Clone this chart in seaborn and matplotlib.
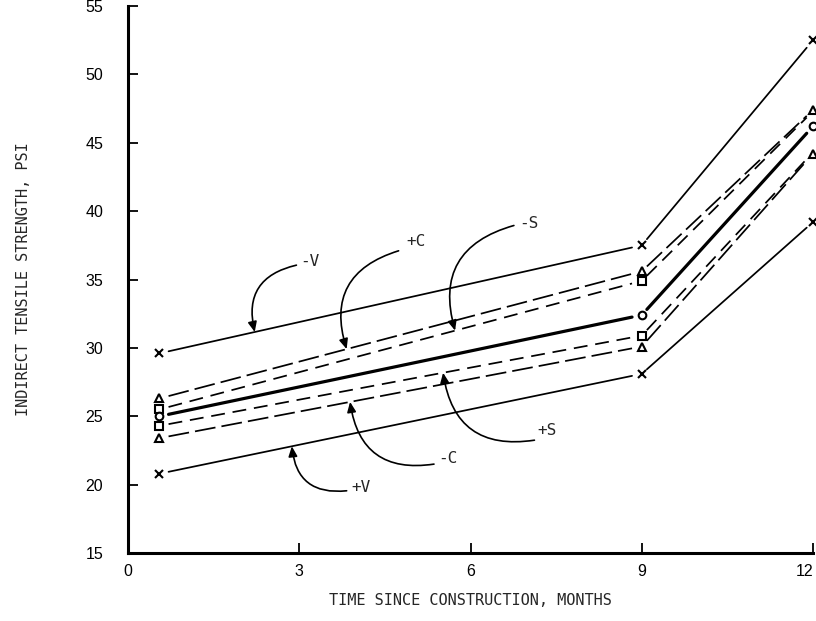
import numpy as np
import pandas as pd
import matplotlib
matplotlib.use("Agg")
import matplotlib.pyplot as plt
import seaborn as sns

# Indirect tensile strength (psi) measured at three ages (months)
months = [0.55, 9.0, 12.0]
minus_V = [29.6, 37.5, 52.5]
plus_C = [26.3, 35.6, 47.4]
minus_S = [25.5, 34.9, 47.3]
base = [25.0, 32.4, 46.2]
plus_S = [24.3, 30.9, 44.3]
minus_C = [23.4, 30.1, 44.2]
plus_V = [20.8, 28.1, 39.2]

x_ticks = [0, 3, 6, 9, 12]
y_ticks = [15, 20, 25, 30, 35, 40, 45, 50, 55]

series = {
    "-V": minus_V, "+C": plus_C, "-S": minus_S, "base": base,
    "+S": plus_S, "-C": minus_C, "+V": plus_V,
}

sns.set_style("ticks")
plt.rcParams["font.family"] = ["Liberation Sans", "DejaVu Sans"]

# line segments stop short of the plotted symbols
gap_before = [0.0, 0.17, 0.11]
gap_after = [0.16, 0.09, 0.0]
rows = []
for name, vals in series.items():
    for seg in range(len(months) - 1):
        xs = [months[seg] + gap_after[seg], months[seg + 1] - gap_before[seg + 1]]
        ys = np.interp(xs, months, vals)
        for xv, yv in zip(xs, ys):
            rows.append({"series": name, "segment": seg, "month": xv, "psi": yv})
df = pd.DataFrame(rows)

long_dash = (12, 3.5)
med_dash = (8, 4.5)
dashes = {"-V": "", "+C": long_dash, "-S": med_dash, "base": "",
          "+S": med_dash, "-C": long_dash, "+V": ""}
sizes = {"-V": 1.25, "+C": 1.25, "-S": 1.25, "base": 2.3,
         "+S": 1.25, "-C": 1.25, "+V": 1.25}

fig = plt.figure(figsize=(8.16, 6.21), dpi=100)
ax = fig.add_axes([0.1569, 0.1095, 0.8394, 0.8808])

sns.lineplot(data=df, x="month", y="psi", style="series", size="series",
             units="segment", estimator=None, dashes=dashes, sizes=sizes,
             color="black", legend=False, ax=ax)

# plotting symbols
sym = {"-V": ("x", None), "+C": ("^", None), "-S": ("s", [0, 1]),
       "base": ("o", None), "+S": ("s", [0, 1]), "-C": ("^", None),
       "+V": ("x", None)}
for name, vals in series.items():
    m, every = sym[name]
    ax.plot(months, vals, linestyle="none", marker=m, markersize=5.5,
            markeredgewidth=1.5, markerfacecolor="white",
            markeredgecolor="black", markevery=every, clip_on=False, zorder=5)

# curved call-outs naming each line
callouts = [
    ("-V", (3.02, 36.3), (2.95, 36.05), 2.22, 0.5),
    ("+C", (4.88, 37.75), (4.74, 37.1), 3.83, 0.5),
    ("-S", (6.85, 39.1), (6.76, 38.95), 5.73, 0.5),
    ("+S", (7.18, 23.95), (7.12, 23.25), 5.52, -0.5),
    ("-C", (5.43, 21.9), (5.36, 21.5), 3.89, -0.5),
    ("+V", (3.92, 19.8), (3.83, 19.55), 2.87, -0.5),
]
for name, txt_pos, start, tip_m, rad in callouts:
    tip = (tip_m, float(np.interp(tip_m, months, series[name])))
    ax.text(txt_pos[0], txt_pos[1], name, ha="left", va="center",
            fontsize=11.5, family="DejaVu Sans Mono")
    ax.annotate("", xy=tip, xytext=start,
                arrowprops=dict(arrowstyle="-|>,head_length=0.5,head_width=0.22",
                                color="black", lw=1.2,
                                connectionstyle=f"arc3,rad={rad}",
                                shrinkA=0, shrinkB=0, mutation_scale=12))

ax.set_xlim(0, 12)
ax.set_ylim(15, 55)
ax.set_xticks(x_ticks)
ax.set_yticks(y_ticks)
ax.set_xticklabels([str(v) for v in x_ticks])
ax.set_yticklabels([str(v) for v in y_ticks])
ax.tick_params(axis="both", direction="in", length=7, width=1.3,
               labelsize=11.5, colors="black")
ax.tick_params(axis="y", pad=18)
ax.tick_params(axis="x", pad=8)
# the last month label sits against the right edge
ax.get_xticklabels()[-1].set_ha("right")
for side in ("top", "right"):
    ax.spines[side].set_visible(False)
for side in ("left", "bottom"):
    ax.spines[side].set_linewidth(2.2)
    ax.spines[side].set_color("black")

ax.set_xlabel("TIME SINCE CONSTRUCTION, MONTHS", fontsize=11,
              family="DejaVu Sans Mono")
ax.set_ylabel("INDIRECT TENSILE STRENGTH, PSI", fontsize=11,
              family="DejaVu Sans Mono")
ax.xaxis.set_label_coords(0.5, -0.086)
ax.xaxis.label.set_va("center")
ax.yaxis.set_label_coords(-0.152, 0.5)
ax.yaxis.label.set_va("center")
ax.yaxis.label.set_ha("center")

fig.savefig("out.png", dpi=100)
